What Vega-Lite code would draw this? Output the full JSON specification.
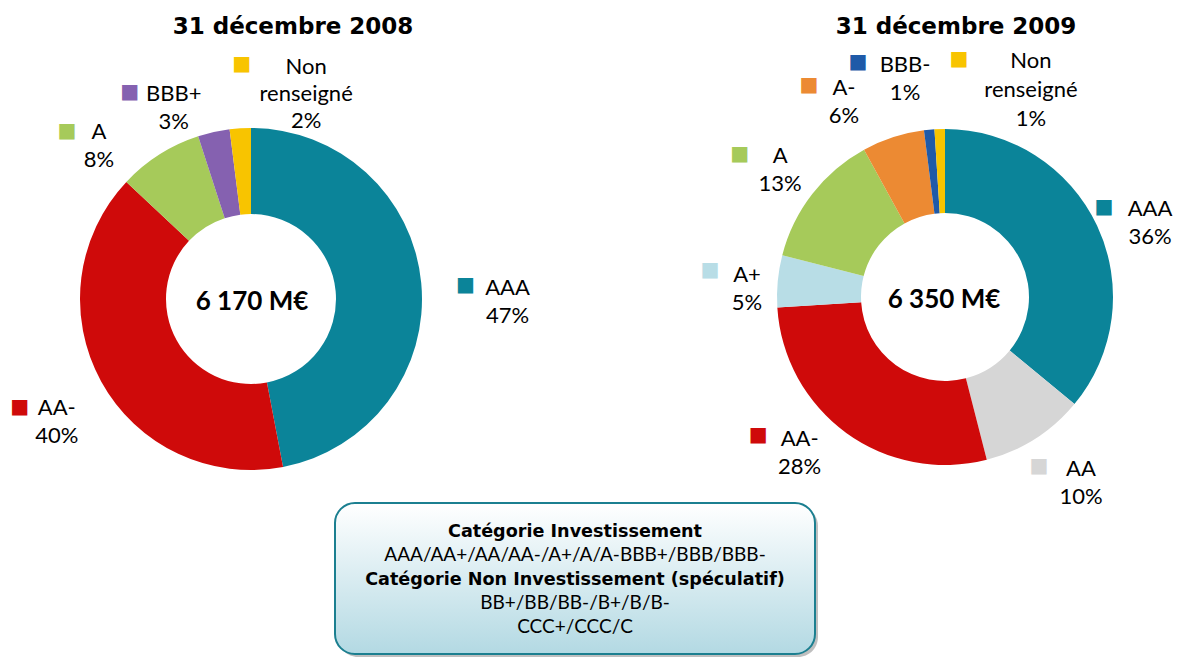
{
  "$schema": "https://vega.github.io/schema/vega-lite/v6.json",
  "width": 1184,
  "height": 657,
  "autosize": {"type": "fit", "contains": "padding"},
  "padding": 0,
  "background": "white",
  "config": {"view": {"stroke": null}, "font": "Lato"},
  "datasets": {
    "slices": [
      {"year": "2008", "label": "AAA", "share": 47, "rank": 1},
      {"year": "2008", "label": "AA-", "share": 40, "rank": 2},
      {"year": "2008", "label": "A", "share": 8, "rank": 3},
      {"year": "2008", "label": "BBB+", "share": 3, "rank": 4},
      {"year": "2008", "label": "Non renseigné", "share": 2, "rank": 5},
      {"year": "2009", "label": "AAA", "share": 36, "rank": 1},
      {"year": "2009", "label": "AA", "share": 10, "rank": 2},
      {"year": "2009", "label": "AA-", "share": 28, "rank": 3},
      {"year": "2009", "label": "A+", "share": 5, "rank": 4},
      {"year": "2009", "label": "A", "share": 13, "rank": 5},
      {"year": "2009", "label": "A-", "share": 6, "rank": 6},
      {"year": "2009", "label": "BBB-", "share": 1, "rank": 7},
      {"year": "2009", "label": "Non renseigné", "share": 1, "rank": 8}
    ],
    "totals": [
      {"year": "2008", "title": "31 décembre 2008", "total": "6 170 M€"},
      {"year": "2009", "title": "31 décembre 2009", "total": "6 350 M€"}
    ],
    "box": [{"box": "note"}],
    "notes": [
      {"line": 1, "kind": "titre", "text": "Catégorie Investissement"},
      {"line": 2, "kind": "detail", "text": "AAA/AA+/AA/AA-/A+/A/A-BBB+/BBB/BBB-"},
      {"line": 3, "kind": "titre", "text": "Catégorie Non Investissement (spéculatif)"},
      {"line": 4, "kind": "detail", "text": "BB+/BB/BB-/B+/B/B-"},
      {"line": 5, "kind": "detail", "text": "CCC+/CCC/C"}
    ]
  },
  "resolve": {"scale": {"x": "independent", "y": "independent"}},
  "layer": [
    {
      "data": {"name": "slices"},
      "transform": [
        {"filter": "datum.year == '2008'"},
        {"stack": "share", "groupby": [], "sort": [{"field": "rank", "order": "ascending"}], "as": ["v0", "v1"]},
        {"calculate": "(datum.v0 + datum.v1) / 2", "as": "mid"},
        {"calculate": "replace(datum.label, ' ', '|') + '|' + datum.share + '%'", "as": "txt"}
      ],
      "encoding": {
        "x": {"field": "year", "type": "nominal", "scale": {"type": "point", "domain": ["2008", "2009"], "range": [251, 945], "padding": 0}, "axis": null},
        "y": {"field": "year", "type": "nominal", "scale": {"type": "point", "domain": ["2008", "2009"], "range": [299, 297], "padding": 0}, "axis": null},
        "color": {"field": "label", "type": "nominal", "legend": null,
          "scale": {"domain": ["AAA", "AA", "AA-", "A+", "A", "A-", "BBB+", "BBB-", "Non renseigné"],
                    "range": ["#0b8499", "#d6d6d6", "#cf0a0a", "#b8dde6", "#a6ca5a", "#ec8a33", "#8561b0", "#1f5aa8", "#f8c400"]}},
        "theta": {"field": "mid", "type": "quantitative", "stack": null, "scale": {"domain": [0, 100]}}
      },
      "layer": [
        {"mark": {"type": "arc", "innerRadius": 85, "outerRadius": 171},
         "encoding": {"theta": {"field": "v0", "type": "quantitative", "stack": null, "scale": {"domain": [0, 100]}}, "theta2": {"field": "v1"}}},
        {"transform": [{"filter": "datum.label == 'AAA'"}], "layer": [
          {"mark": {"type": "text", "text": "■", "font": "DejaVu Sans", "fontSize": 20, "baseline": "middle", "align": "center", "radius": 215, "thetaOffset": 0.031}},
          {"mark": {"type": "text", "radius": 215, "thetaOffset": 0.031, "dx": 42, "dy": 9.5, "align": "center", "baseline": "alphabetic", "lineBreak": "|", "lineHeight": 28, "fontSize": 22}, "encoding": {"text": {"field": "txt"}, "color": {"value": "black"}}}
        ]},
        {"transform": [{"filter": "datum.label == 'AA-'"}], "layer": [
          {"mark": {"type": "text", "text": "■", "font": "DejaVu Sans", "fontSize": 20, "baseline": "middle", "align": "center", "radius": 255, "thetaOffset": 0.067}},
          {"mark": {"type": "text", "radius": 255, "thetaOffset": 0.067, "dx": 37, "dy": 8.5, "align": "center", "baseline": "alphabetic", "lineBreak": "|", "lineHeight": 28, "fontSize": 22}, "encoding": {"text": {"field": "txt"}, "color": {"value": "black"}}}
        ]},
        {"transform": [{"filter": "datum.label == 'A'"}], "layer": [
          {"mark": {"type": "text", "text": "■", "font": "DejaVu Sans", "fontSize": 20, "baseline": "middle", "align": "center", "radius": 249, "thetaOffset": -0.266}},
          {"mark": {"type": "text", "radius": 249, "thetaOffset": -0.266, "dx": 32, "dy": 8, "align": "center", "baseline": "alphabetic", "lineBreak": "|", "lineHeight": 28, "fontSize": 22}, "encoding": {"text": {"field": "txt"}, "color": {"value": "black"}}}
        ]},
        {"transform": [{"filter": "datum.label == 'BBB+'"}], "layer": [
          {"mark": {"type": "text", "text": "■", "font": "DejaVu Sans", "fontSize": 20, "baseline": "middle", "align": "center", "radius": 240, "thetaOffset": -0.31}},
          {"mark": {"type": "text", "radius": 240, "thetaOffset": -0.31, "dx": 44, "dy": 9.5, "align": "center", "baseline": "alphabetic", "lineBreak": "|", "lineHeight": 28, "fontSize": 22}, "encoding": {"text": {"field": "txt"}, "color": {"value": "black"}}}
        ]},
        {"transform": [{"filter": "datum.label == 'Non renseigné'"}], "layer": [
          {"mark": {"type": "text", "text": "■", "font": "DejaVu Sans", "fontSize": 20, "baseline": "middle", "align": "center", "radius": 235, "thetaOffset": 0.023}},
          {"mark": {"type": "text", "radius": 235, "thetaOffset": 0.023, "dx": 64.5, "dy": 9.5, "align": "center", "baseline": "alphabetic", "lineBreak": "|", "lineHeight": 27, "fontSize": 22}, "encoding": {"text": {"field": "txt"}, "color": {"value": "black"}}}
        ]}
      ]
    },
    {
      "data": {"name": "slices"},
      "transform": [
        {"filter": "datum.year == '2009'"},
        {"stack": "share", "groupby": [], "sort": [{"field": "rank", "order": "ascending"}], "as": ["v0", "v1"]},
        {"calculate": "(datum.v0 + datum.v1) / 2", "as": "mid"},
        {"calculate": "replace(datum.label, ' ', '|') + '|' + datum.share + '%'", "as": "txt"}
      ],
      "encoding": {
        "x": {"field": "year", "type": "nominal", "scale": {"type": "point", "domain": ["2008", "2009"], "range": [251, 945], "padding": 0}, "axis": null},
        "y": {"field": "year", "type": "nominal", "scale": {"type": "point", "domain": ["2008", "2009"], "range": [299, 297], "padding": 0}, "axis": null},
        "color": {"field": "label", "type": "nominal", "legend": null},
        "theta": {"field": "mid", "type": "quantitative", "stack": null, "scale": {"domain": [0, 100]}}
      },
      "layer": [
        {"mark": {"type": "arc", "innerRadius": 84, "outerRadius": 168},
         "encoding": {"theta": {"field": "v0", "type": "quantitative", "stack": null, "scale": {"domain": [0, 100]}}, "theta2": {"field": "v1"}}},
        {"transform": [{"filter": "datum.label == 'AAA'"}], "layer": [
          {"mark": {"type": "text", "text": "■", "font": "DejaVu Sans", "fontSize": 20, "baseline": "middle", "align": "center", "radius": 182.5, "thetaOffset": -0.073}},
          {"mark": {"type": "text", "radius": 182.5, "thetaOffset": -0.073, "dx": 46, "dy": 9, "align": "center", "baseline": "alphabetic", "lineBreak": "|", "lineHeight": 28, "fontSize": 22}, "encoding": {"text": {"field": "txt"}, "color": {"value": "black"}}}
        ]},
        {"transform": [{"filter": "datum.label == 'AA'"}], "layer": [
          {"mark": {"type": "text", "text": "■", "font": "DejaVu Sans", "fontSize": 20, "baseline": "middle", "align": "center", "radius": 193, "thetaOffset": 0.057}},
          {"mark": {"type": "text", "radius": 193, "thetaOffset": 0.057, "dx": 42, "dy": 10.5, "align": "center", "baseline": "alphabetic", "lineBreak": "|", "lineHeight": 28, "fontSize": 22}, "encoding": {"text": {"field": "txt"}, "color": {"value": "black"}}}
        ]},
        {"transform": [{"filter": "datum.label == 'AA-'"}], "layer": [
          {"mark": {"type": "text", "text": "■", "font": "DejaVu Sans", "fontSize": 20, "baseline": "middle", "align": "center", "radius": 232, "thetaOffset": 0.308}},
          {"mark": {"type": "text", "radius": 232, "thetaOffset": 0.308, "dx": 41.5, "dy": 11, "align": "center", "baseline": "alphabetic", "lineBreak": "|", "lineHeight": 28, "fontSize": 22}, "encoding": {"text": {"field": "txt"}, "color": {"value": "black"}}}
        ]},
        {"transform": [{"filter": "datum.label == 'A+'"}], "layer": [
          {"mark": {"type": "text", "text": "■", "font": "DejaVu Sans", "fontSize": 20, "baseline": "middle", "align": "center", "radius": 236.5, "thetaOffset": 0.02}},
          {"mark": {"type": "text", "radius": 236.5, "thetaOffset": 0.02, "dx": 37, "dy": 11.5, "align": "center", "baseline": "alphabetic", "lineBreak": "|", "lineHeight": 28, "fontSize": 22}, "encoding": {"text": {"field": "txt"}, "color": {"value": "black"}}}
        ]},
        {"transform": [{"filter": "datum.label == 'A'"}], "layer": [
          {"mark": {"type": "text", "text": "■", "font": "DejaVu Sans", "fontSize": 20, "baseline": "middle", "align": "center", "radius": 250, "thetaOffset": -0.053}},
          {"mark": {"type": "text", "radius": 250, "thetaOffset": -0.053, "dx": 40.5, "dy": 9, "align": "center", "baseline": "alphabetic", "lineBreak": "|", "lineHeight": 28, "fontSize": 22}, "encoding": {"text": {"field": "txt"}, "color": {"value": "black"}}}
        ]},
        {"transform": [{"filter": "datum.label == 'A-'"}], "layer": [
          {"mark": {"type": "text", "text": "■", "font": "DejaVu Sans", "fontSize": 20, "baseline": "middle", "align": "center", "radius": 252, "thetaOffset": -0.256}},
          {"mark": {"type": "text", "radius": 252, "thetaOffset": -0.256, "dx": 35, "dy": 10, "align": "center", "baseline": "alphabetic", "lineBreak": "|", "lineHeight": 28, "fontSize": 22}, "encoding": {"text": {"field": "txt"}, "color": {"value": "black"}}}
        ]},
        {"transform": [{"filter": "datum.label == 'BBB-'"}], "layer": [
          {"mark": {"type": "text", "text": "■", "font": "DejaVu Sans", "fontSize": 20, "baseline": "middle", "align": "center", "radius": 250.6, "thetaOffset": -0.26}},
          {"mark": {"type": "text", "radius": 250.6, "thetaOffset": -0.26, "dx": 47, "dy": 10.5, "align": "center", "baseline": "alphabetic", "lineBreak": "|", "lineHeight": 28, "fontSize": 22}, "encoding": {"text": {"field": "txt"}, "color": {"value": "black"}}}
        ]},
        {"transform": [{"filter": "datum.label == 'Non renseigné'"}], "layer": [
          {"mark": {"type": "text", "text": "■", "font": "DejaVu Sans", "fontSize": 20, "baseline": "middle", "align": "center", "radius": 238.4, "thetaOffset": 0.09}},
          {"mark": {"type": "text", "radius": 238.4, "thetaOffset": 0.09, "dx": 72, "dy": 9.3, "align": "center", "baseline": "alphabetic", "lineBreak": "|", "lineHeight": 29, "fontSize": 22}, "encoding": {"text": {"field": "txt"}, "color": {"value": "black"}}}
        ]}
      ]
    },
    {
      "data": {"name": "totals"},
      "mark": {"type": "text", "fontSize": 26, "fontWeight": "bold", "baseline": "middle", "align": "center", "dy": 3, "color": "black"},
      "encoding": {
        "x": {"field": "year", "type": "nominal", "scale": {"type": "point", "domain": ["2008", "2009"], "range": [252, 944], "padding": 0}, "axis": null},
        "y": {"field": "year", "type": "nominal", "scale": {"type": "point", "domain": ["2008", "2009"], "range": [299, 297], "padding": 0}, "axis": null},
        "text": {"field": "total"}
      }
    },
    {
      "data": {"name": "totals"},
      "mark": {"type": "text", "font": "DejaVu Sans", "fontSize": 23, "fontWeight": "bold", "baseline": "alphabetic", "align": "center", "color": "black"},
      "encoding": {
        "x": {"field": "year", "type": "nominal", "scale": {"type": "point", "domain": ["2008", "2009"], "range": [293, 956], "padding": 0}, "axis": null},
        "y": {"field": "year", "type": "nominal", "scale": {"type": "point", "domain": ["2008", "2009"], "range": [34, 34], "padding": 0}, "axis": null},
        "text": {"field": "title"}
      }
    },
    {
      "data": {"name": "box"},
      "encoding": {
        "x": {"field": "box", "type": "nominal", "scale": {"type": "band", "domain": ["note"], "range": [335, 815], "paddingInner": 0, "paddingOuter": 0}, "axis": null},
        "y": {"field": "box", "type": "nominal", "scale": {"type": "band", "domain": ["note"], "range": [503, 654], "paddingInner": 0, "paddingOuter": 0}, "axis": null}
      },
      "layer": [
        {"mark": {"type": "rect", "cornerRadius": 20, "fill": "#8a8a8a", "opacity": 0.55, "xOffset": 3, "yOffset": 3}},
        {"mark": {"type": "rect", "cornerRadius": 20, "stroke": "#1b7f90", "strokeWidth": 2,
          "fill": {"gradient": "linear", "x1": 0, "y1": 0, "x2": 0, "y2": 1, "stops": [{"offset": 0, "color": "#ffffff"}, {"offset": 1, "color": "#b3d9e3"}]}}}
      ]
    },
    {
      "data": {"name": "notes"},
      "encoding": {
        "x": {"datum": "note", "type": "nominal", "scale": {"type": "point", "domain": ["note"], "range": [575, 575], "padding": 0}, "axis": null},
        "y": {"field": "line", "type": "ordinal", "scale": {"type": "point", "domain": [1, 2, 3, 4, 5], "range": [537, 632.5], "padding": 0}, "axis": null},
        "text": {"field": "text"}
      },
      "layer": [
        {"transform": [{"filter": "datum.kind == 'titre'"}], "mark": {"type": "text", "font": "DejaVu Sans", "fontSize": 17.6, "fontWeight": "bold", "baseline": "alphabetic", "align": "center", "color": "black"}},
        {"transform": [{"filter": "datum.kind == 'detail'"}], "mark": {"type": "text", "fontSize": 19, "baseline": "alphabetic", "align": "center", "color": "black"}}
      ]
    }
  ]
}
